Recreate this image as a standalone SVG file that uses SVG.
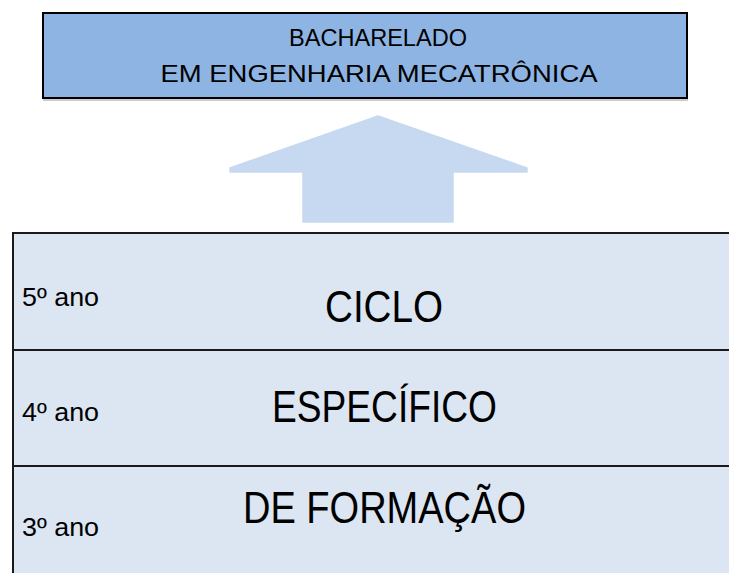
<svg xmlns="http://www.w3.org/2000/svg" width="729" height="573" viewBox="0 0 729 573">
<style>
.t{font-family:"Liberation Sans","DejaVu Sans",sans-serif;fill:#000}
.big{font-size:45px}
.yr{font-size:25px}
.hd{font-size:24px}
.ln{stroke:#1a1a1a;stroke-width:2;fill:none}
</style>
<rect width="729" height="573" fill="#ffffff"/>
<g id="title">
<rect x="43" y="13" width="644" height="85" fill="#8EB4E3" stroke="#000" stroke-width="2"/>
<line x1="43" y1="100" x2="688" y2="100" stroke="#9a9a9a" stroke-width="1"/>
<text class="t hd" x="378" y="46" text-anchor="middle" textLength="178" lengthAdjust="spacingAndGlyphs">BACHARELADO</text>
<text class="t hd" x="379" y="82" text-anchor="middle" textLength="437" lengthAdjust="spacingAndGlyphs">EM ENGENHARIA MECATRÔNICA</text>
</g>
<g id="connectors">
<polygon id="arrow" points="378,116 527,168 527,172 453,172 453,222 303,222 303,172 230,172 230,168" fill="#C6D9F1" stroke="#C6D9F1" stroke-width="1.5" stroke-linejoin="round"/>
</g>
<g id="cycle">
<rect x="13" y="233" width="730" height="350" fill="#DCE6F2"/>
<line class="ln" x1="12" y1="233" x2="729" y2="233"/>
<line class="ln" x1="13" y1="233" x2="13" y2="573"/>
<line class="ln" x1="13" y1="350" x2="729" y2="350"/>
<line class="ln" x1="13" y1="466" x2="729" y2="466"/>
</g>
<g id="row5">
<text class="t yr" x="22" y="306" textLength="77" lengthAdjust="spacingAndGlyphs">5º ano</text>
<text class="t big" x="384" y="322" text-anchor="middle" textLength="118" lengthAdjust="spacingAndGlyphs">CICLO</text>
</g>
<g id="row4">
<text class="t yr" x="22" y="421" textLength="77" lengthAdjust="spacingAndGlyphs">4º ano</text>
<text class="t big" x="384.5" y="422" text-anchor="middle" textLength="225" lengthAdjust="spacingAndGlyphs">ESPECÍFICO</text>
</g>
<g id="row3">
<text class="t yr" x="22" y="536" textLength="77" lengthAdjust="spacingAndGlyphs">3º ano</text>
<text class="t big" x="384.5" y="523" text-anchor="middle" textLength="283" lengthAdjust="spacingAndGlyphs">DE FORMAÇÃO</text>
</g>
</svg>
